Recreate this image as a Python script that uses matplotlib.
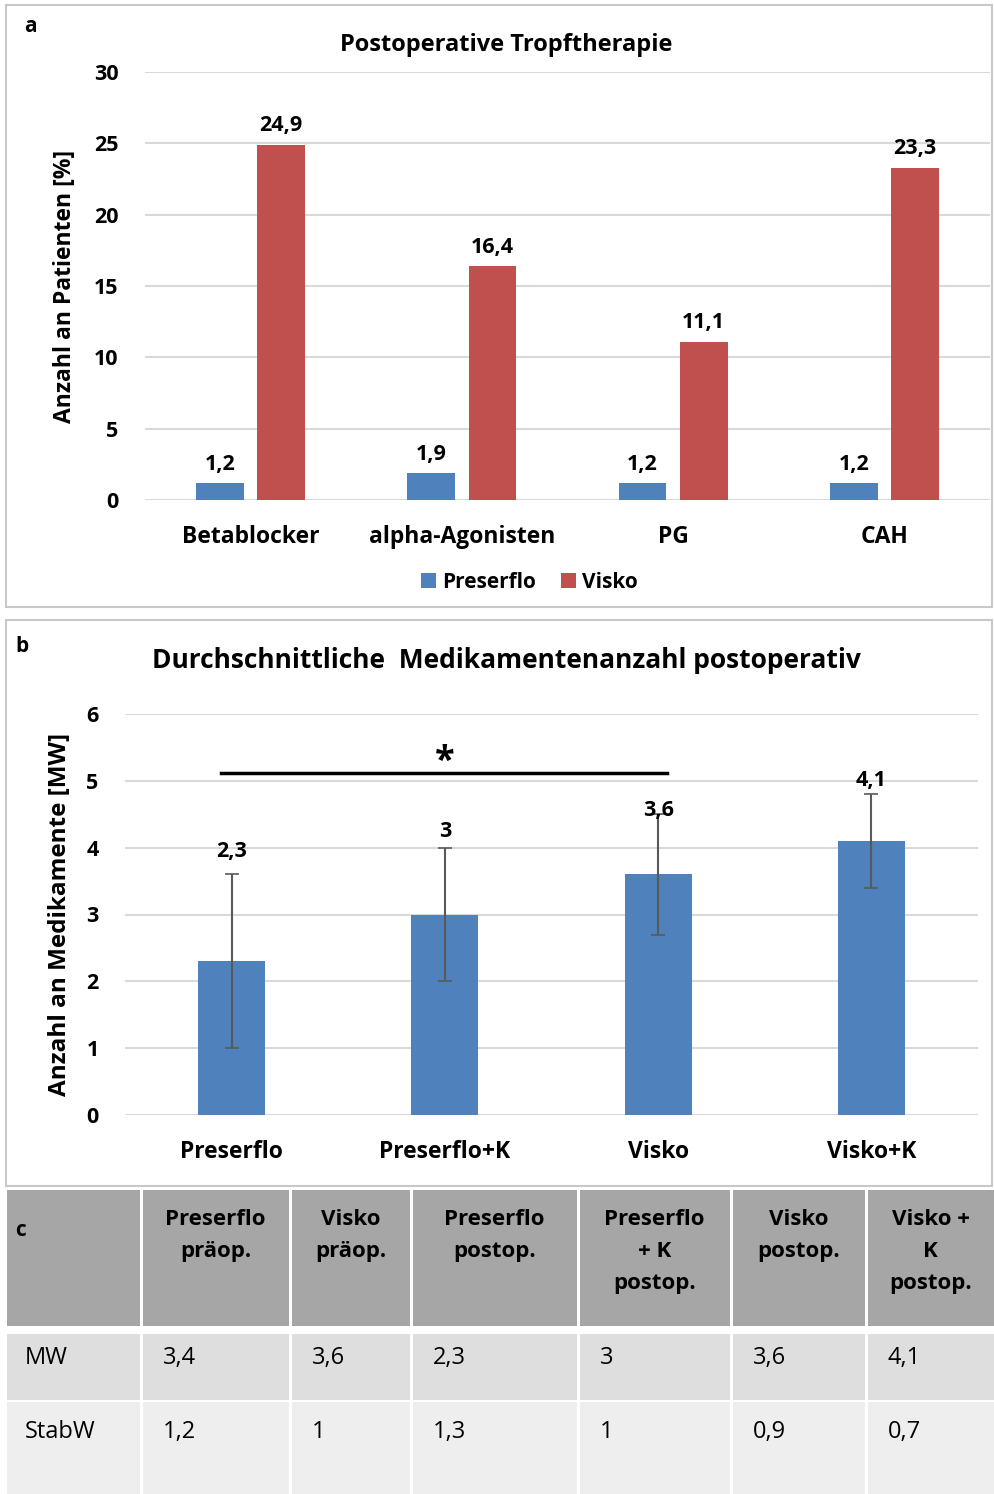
import matplotlib
matplotlib.use("Agg")
import matplotlib.pyplot as plt
from matplotlib.patches import Rectangle
import numpy as np

plt.rcParams['font.family'] = ['Open Sans', 'DejaVu Sans']

# panel a
drugs = ['Betablocker', 'alpha-Agonisten', 'PG', 'CAH']
preserflo_pct = [1.2, 1.9, 1.2, 1.2]
visko_pct = [24.9, 16.4, 11.1, 23.3]

# panel b
groups = ['Preserflo', 'Preserflo+K', 'Visko', 'Visko+K']
mean_meds = [2.3, 3, 3.6, 4.1]
sd_meds = [1.3, 1, 0.9, 0.7]

# panel c
table_cols = ['Preserflo\npräop.', 'Visko\npräop.', 'Preserflo\npostop.',
              'Preserflo\n+ K\npostop.', 'Visko\npostop.', 'Visko +\nK\npostop.']
table_rows = ['MW', 'StabW']
table_vals = [['3,4', '3,6', '2,3', '3', '3,6', '4,1'],
              ['1,2', '1', '1,3', '1', '0,9', '0,7']]

BLUE = '#4F81BD'
RED = '#C0504D'
GRID = '#D9D9D9'
W, H = 995, 1494

fig = plt.figure(figsize=(W / 100, H / 100), dpi=100)


def box(x0, y0, x1, y1):
    return [x0 / W, 1 - y1 / H, (x1 - x0) / W, (y1 - y0) / H]


def fmt(v):
    return ('%g' % v).replace('.', ',')


# frames
bg = fig.add_axes([0, 0, 1, 1])
bg.set_xlim(0, W)
bg.set_ylim(H, 0)
bg.axis('off')
bg.add_patch(Rectangle((6, 5), 986, 602, fill=False, ec='#C8C8C8', lw=1.5))
bg.add_patch(Rectangle((6, 620), 986, 566, fill=False, ec='#C8C8C8', lw=1.5))
bg.text(24, 27, 'a', fontsize=15, fontweight='bold', va='center', ha='left')
bg.text(15, 646, 'b', fontsize=15, fontweight='bold', va='center', ha='left')
bg.text(506, 45, 'Postoperative Tropftherapie', fontsize=17, fontweight='bold',
        ha='center', va='center')
bg.text(506, 660, 'Durchschnittliche  Medikamentenanzahl postoperativ', fontsize=19,
        fontweight='bold', ha='center', va='center')

# ---- a
ax = fig.add_axes(box(145, 72, 990, 500))
x = np.arange(len(drugs))
off, bw = 0.145, 0.225
b1 = ax.bar(x - off, preserflo_pct, bw, color=BLUE, label='Preserflo', zorder=3)
b2 = ax.bar(x + off, visko_pct, bw, color=RED, label='Visko', zorder=3)
for bars, vals in [(b1, preserflo_pct), (b2, visko_pct)]:
    for r, v in zip(bars, vals):
        ax.annotate(fmt(v), (r.get_x() + r.get_width() / 2, v), xytext=(0, 6),
                    textcoords='offset points', ha='center', va='bottom',
                    fontsize=15.5, fontweight='bold')
ax.set_xlim(-0.5, 3.5)
ax.set_ylim(0, 30)
ax.set_yticks(range(0, 31, 5))
ax.grid(axis='y', color=GRID, lw=1.5, zorder=0)
for s in ax.spines.values():
    s.set_visible(False)
ax.tick_params(length=0, labelsize=15.5)
ax.tick_params(axis='x', pad=18, labelsize=16.5)
ax.tick_params(axis='y', pad=19)
ax.set_xticks(x)
ax.set_xticklabels(drugs, fontweight='bold')
for t in ax.get_yticklabels():
    t.set_fontweight('bold')
ax.set_ylabel('Anzahl an Patienten [%]', fontsize=16.5, fontweight='bold', labelpad=12)
ax.legend(loc='center', bbox_to_anchor=(0.455, -0.192), ncol=2, frameon=False,
          prop={'weight': 'bold', 'size': 15}, handlelength=0.7,
          handleheight=0.7, columnspacing=1.2, handletextpad=0.3)

# ---- b
bx = fig.add_axes(box(125, 714, 978, 1115))
x = np.arange(len(groups))
bars = bx.bar(x, mean_meds, 0.315, color=BLUE, zorder=3)
bx.errorbar(x, mean_meds, yerr=sd_meds, fmt='none', ecolor='#595959', elinewidth=1.5,
            capsize=5, capthick=1.2, zorder=4)
lab_off = [9, 4, -5, 2]
for r, v, s, o in zip(bars, mean_meds, sd_meds, lab_off):
    bx.annotate(fmt(v), (r.get_x() + r.get_width() / 2, v + s), xytext=(0, o),
                textcoords='offset points', ha='center', va='bottom',
                fontsize=15.5, fontweight='bold', zorder=6)
bx.plot([-0.05, 2.04], [5.12, 5.12], color='black', lw=2.5, zorder=5)
bx.text(1.0, 5.02, '*', ha='center', va='bottom', fontsize=26, fontweight='bold')
bx.set_xlim(-0.5, 3.5)
bx.set_ylim(0, 6)
bx.set_yticks(range(0, 7))
bx.grid(axis='y', color=GRID, lw=1.5, zorder=0)
for s in bx.spines.values():
    s.set_visible(False)
bx.tick_params(length=0, labelsize=15.5)
bx.tick_params(axis='x', pad=18, labelsize=16.5)
bx.tick_params(axis='y', pad=19)
bx.set_xticks(x)
bx.set_xticklabels(groups, fontweight='bold')
for t in bx.get_yticklabels():
    t.set_fontweight('bold')
bx.set_ylabel('Anzahl an Medikamente [MW]', fontsize=17.5, fontweight='bold', labelpad=10)

# ---- c
edges = [5, 141, 290, 411, 578, 731, 866, 995]
row_tops = [1190, 1334, 1402]
row_bots = [1326, 1400, 1494]
row_cols = ['#A6A6A6', '#DEDEDE', '#EEEEEE']
for ri in range(3):
    for ci in range(len(edges) - 1):
        bg.add_patch(Rectangle((edges[ci] + 1.5, row_tops[ri]), edges[ci + 1] - edges[ci] - 3,
                               row_bots[ri] - row_tops[ri], color=row_cols[ri], lw=0))
bg.text(15, 1230, 'c', fontsize=15, fontweight='bold', va='center', ha='left')
for ci, lab in enumerate(table_cols):
    cx = (edges[ci + 1] + edges[ci + 2]) / 2
    bg.text(cx, 1209, lab, ha='center', va='top', fontsize=16, fontweight='bold',
            linespacing=1.7)
for ri, (name, vals) in enumerate(zip(table_rows, table_vals)):
    y = [1358, 1432][ri]
    bg.text(25, y, name, ha='left', va='center', fontsize=17)
    for ci, v in enumerate(vals):
        bg.text(edges[ci + 1] + 22, y, v, ha='left', va='center', fontsize=17)

fig.savefig('out.png', dpi=100)
